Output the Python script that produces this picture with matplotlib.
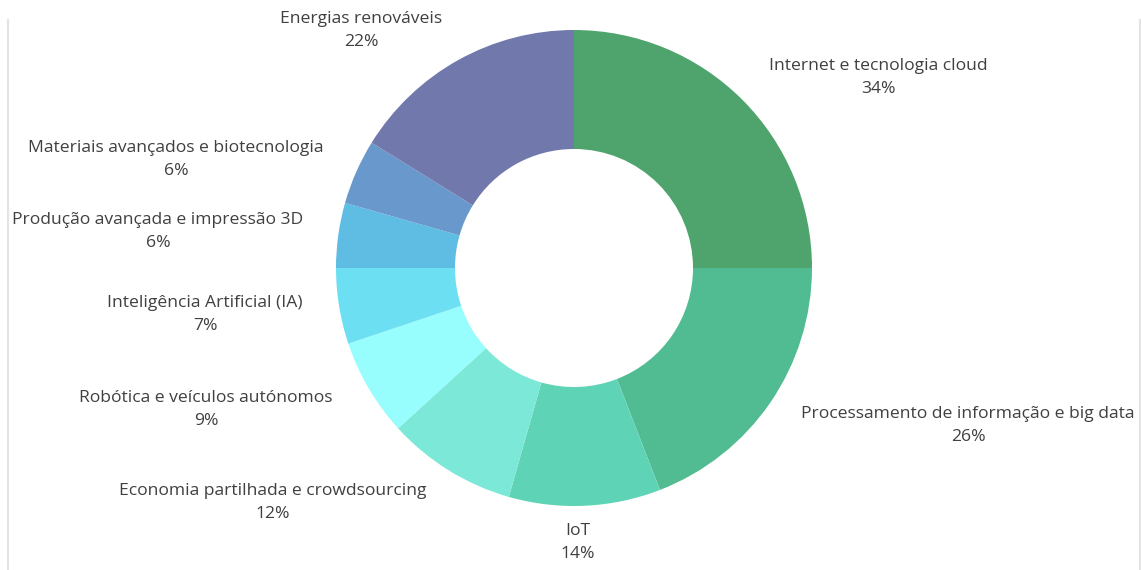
import matplotlib
matplotlib.use("Agg")
import matplotlib.pyplot as plt
from matplotlib.lines import Line2D

# data
categories = ["Internet e tecnologia cloud", "Processamento de informação e big data", "IoT",
              "Economia partilhada e crowdsourcing", "Robótica e veículos autónomos",
              "Inteligência Artificial (IA)", "Produção avançada e impressão 3D",
              "Materiais avançados e biotecnologia", "Energias renováveis"]
values = [34, 26, 14, 12, 9, 7, 6, 6, 22]
colors = ["#4fa46d", "#51bb92", "#5fd3b5", "#7ce8d8", "#97fdfd",
          "#6ddff2", "#5fbce2", "#6898cc", "#7178ab"]

# label centres in pixels (x, y of first line, from top)
label_pos = [(878, 66), (968, 414), (578, 531), (273, 491), (206, 398),
             (205, 303), (158, 220), (176, 148), (361, 19)]

W, H = 1141, 570
fig = plt.figure(figsize=(W / 100, H / 100), dpi=100)
ax = fig.add_axes([0, 0, 1, 1])

cx, cy, r = 574, H - 268, 238
ax.pie(values, colors=colors, startangle=90, counterclock=False,
       center=(cx, cy), radius=r, wedgeprops=dict(width=r * 0.5, linewidth=0))
ax.set_xlim(0, W)
ax.set_ylim(0, H)
ax.set_aspect("equal")
ax.axis("off")

for name, v, (x, y) in zip(categories, values, label_pos):
    ax.text(x, H - y, name, ha="center", va="center", fontsize=12.6,
            color="#404040", family="Open Sans", fontweight="medium")
    ax.text(x, H - y - 23, f"{v}%", ha="center", va="center", fontsize=12.6,
            color="#404040", family="Open Sans", fontweight="medium")

fig.add_artist(Line2D([7.5 / W, 7.5 / W], [0, 1 - 20 / H], color="#e3e3e3", lw=1.5))
fig.add_artist(Line2D([1139.5 / W, 1139.5 / W], [0, 1 - 20 / H], color="#e3e3e3", lw=1.5))

fig.savefig("out.png", dpi=100)
